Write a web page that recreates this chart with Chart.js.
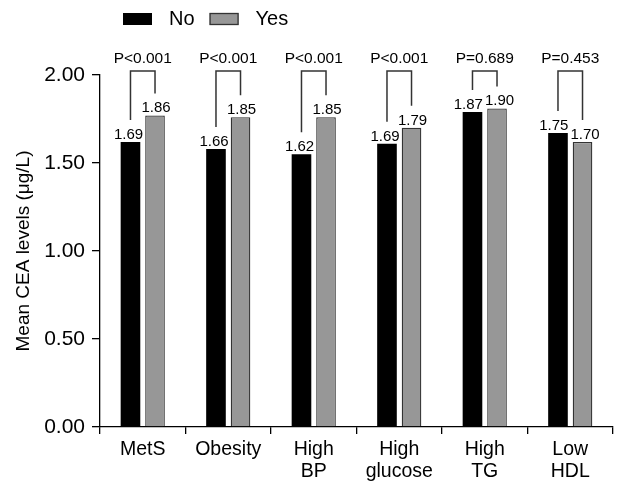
<!DOCTYPE html>
<html>
<head>
<meta charset="utf-8">
<script src="https://cdn.jsdelivr.net/npm/chart.js@4/dist/chart.umd.min.js"></script>
<style>
html, body { margin: 0; padding: 0; background: #fff; }
</style>
</head>
<body>
<canvas id="canvas" width="617" height="487"></canvas>
<script>
var CATEGORIES = ['MetS', 'Obesity', ['High', 'BP'], ['High', 'glucose'], ['High', 'TG'], ['Low', 'HDL']];
var SERIES = ['No', 'Yes'];
// bar heights as they are drawn in the figure
var NO_BARS = [1.62, 1.58, 1.55, 1.61, 1.79, 1.67];
var YES_BARS = [1.77, 1.76, 1.76, 1.70, 1.81, 1.62];
// numbers printed above the bars
var NO_LABELS = ['1.69', '1.66', '1.62', '1.69', '1.87', '1.75'];
var YES_LABELS = ['1.86', '1.85', '1.85', '1.79', '1.90', '1.70'];
var P_VALUES = ['P<0.001', 'P<0.001', 'P<0.001', 'P<0.001', 'P=0.689', 'P=0.453'];

var FONT = '"Liberation Sans", Arial, sans-serif';
Chart.defaults.font.family = FONT;
Chart.defaults.color = '#000';

// value labels, brackets and p-values
var annotate = {
	id: 'annotate',
	afterDatasetsDraw: function(chart) {
		var ctx = chart.ctx;
		var no = chart.getDatasetMeta(0).data;
		var yes = chart.getDatasetMeta(1).data;
		var top = chart.chartArea.top - 4;
		ctx.save();
		ctx.fillStyle = '#000';
		ctx.textAlign = 'center';
		ctx.textBaseline = 'alphabetic';
		for (var i = 0; i < no.length; i++) {
			var a = no[i], b = yes[i];
			ctx.font = '15px ' + FONT;
			var wa = ctx.measureText(NO_LABELS[i]).width;
			var wb = ctx.measureText(YES_LABELS[i]).width;
			var xa = a.x - 2, xb = b.x + 1;
			if (Math.abs(a.y - b.y) < 14) {
				var extra = (wa + wb) / 2 + 2 - (xb - xa);
				if (extra > 0) { xa -= extra * 0.6; xb += extra * 0.4; }
			}
			ctx.fillText(NO_LABELS[i], xa, a.y - 3);
			ctx.fillText(YES_LABELS[i], xb, b.y - 3);

			ctx.beginPath();
			ctx.moveTo(a.x, a.y - 22);
			ctx.lineTo(a.x, top);
			ctx.lineTo(b.x, top);
			ctx.lineTo(b.x, b.y - 22);
			ctx.strokeStyle = '#333';
			ctx.lineWidth = 1.5;
			ctx.stroke();
			ctx.font = '15.5px ' + FONT;
			ctx.fillText(P_VALUES[i], (a.x + b.x) / 2, top - 8);
		}
		ctx.restore();
	}
};

var topLegend = {
	id: 'topLegend',
	afterDraw: function(chart) {
		var ctx = chart.ctx;
		var x = 123, y = 13;
		ctx.save();
		ctx.font = '20px ' + FONT;
		ctx.textAlign = 'left';
		ctx.textBaseline = 'alphabetic';
		chart.data.datasets.forEach(function(ds) {
			ctx.fillStyle = ds.backgroundColor;
			ctx.fillRect(x, y, 29, 12);
			if (ds.borderWidth) {
				ctx.strokeStyle = ds.borderColor;
				ctx.lineWidth = 1.3;
				ctx.strokeRect(x + 0.5, y + 0.5, 28, 11);
			}
			ctx.fillStyle = '#000';
			ctx.fillText(ds.label, x + 29 + 17, y + 11.5);
			x += 29 + 17 + ctx.measureText(ds.label).width + 15;
		});
		ctx.restore();
	}
};

window.onload = function() {
	var ctx = document.getElementById('canvas').getContext('2d');
	window.myBar = new Chart(ctx, {
		type: 'bar',
		data: {
			labels: CATEGORIES,
			datasets: [{
				label: SERIES[0],
				data: NO_BARS,
				backgroundColor: '#000',
				borderColor: '#000',
				borderWidth: 0,
				categoryPercentage: 0.574,
				barPercentage: 0.8
			}, {
				label: SERIES[1],
				data: YES_BARS,
				backgroundColor: '#979797',
				borderColor: '#333',
				borderWidth: 1.3,
				categoryPercentage: 0.574,
				barPercentage: 0.8
			}]
		},
		options: {
			responsive: false,
			animation: false,
			layout: { padding: { top: 75, right: 4, bottom: 5, left: 0 } },
			plugins: {
				legend: { display: false },
				tooltip: { enabled: false }
			},
			scales: {
				x: {
					offset: true,
					grid: { drawOnChartArea: false, offset: true, color: '#000', lineWidth: 1.3, tickLength: 7 },
					border: { color: '#000', width: 1.3 },
					ticks: { font: { size: 19.5, lineHeight: 1.15 }, padding: 4, maxRotation: 0, autoSkip: false },
					afterFit: function(s) { s.height = 55; }
				},
				y: {
					min: 0,
					max: 2,
					grid: { drawOnChartArea: false, color: '#000', lineWidth: 1.3, tickLength: 8 },
					border: { color: '#000', width: 1.3 },
					ticks: {
						stepSize: 0.5,
						padding: 7,
						font: { size: 21 },
						callback: function(v) { return v.toFixed(2); }
					},
					title: {
						display: true,
						text: 'Mean CEA levels (\u03bcg/L)',
						font: { size: 19 },
						padding: { top: 12, bottom: 0 }
					},
					afterFit: function(s) { s.width = 100; }
				}
			}
		},
		plugins: [annotate, topLegend]
	});
};
</script>
</body>
</html>
